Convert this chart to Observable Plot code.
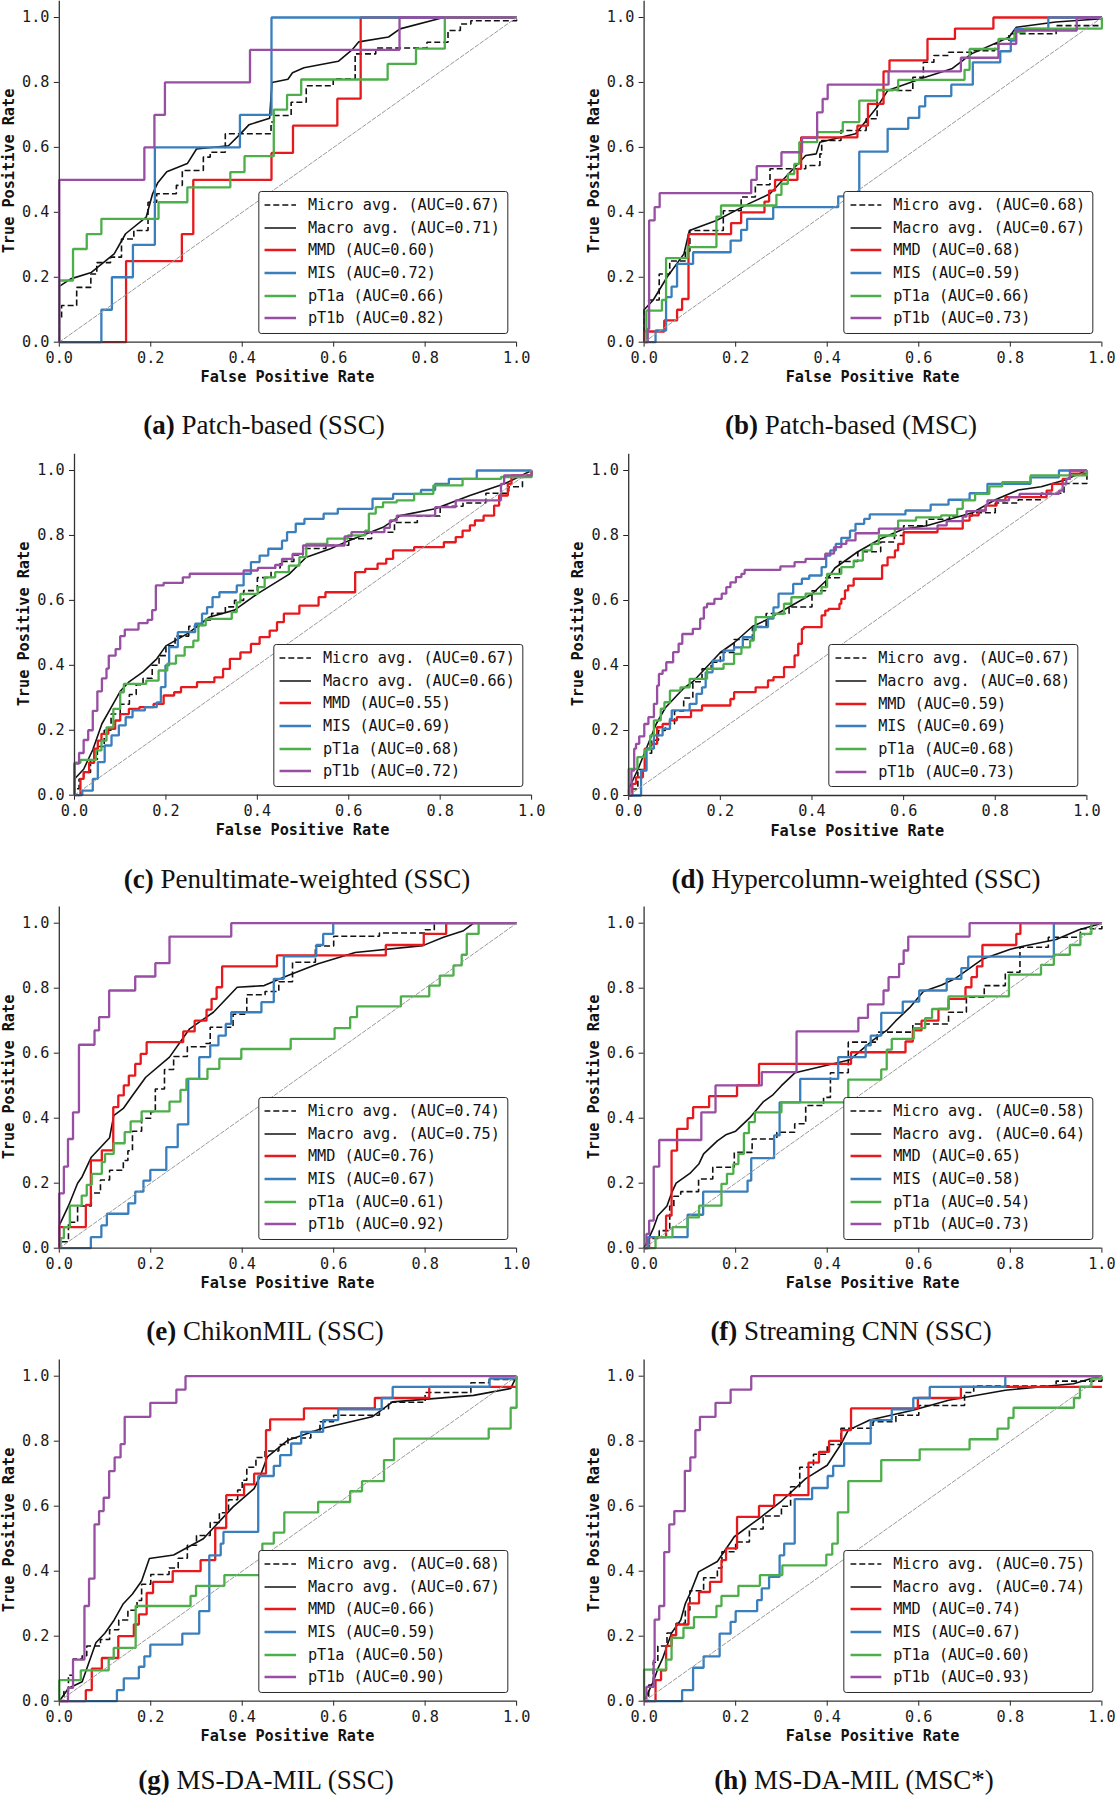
<!DOCTYPE html>
<html>
<head>
<meta charset="utf-8">
<script src="https://cdn.jsdelivr.net/npm/d3@7"></script>
<script src="https://cdn.jsdelivr.net/npm/@observablehq/plot@0.6"></script>
<style>
  html, body { margin: 0; padding: 0; background: #fff; }
  #root { position: relative; width: 1115px; height: 1800px; background: #fff; overflow: hidden; }
  .legend { position: absolute; background: #fff; border: 1.3px solid #2a2a2a; border-radius: 3px; box-sizing: border-box;
            font-family: "DejaVu Sans Mono", monospace; color: #111; white-space: pre; }
  .legrow { display: flex; align-items: center; }
  .axlab { position: absolute; font-family: "DejaVu Sans Mono", monospace; font-weight: bold; color: #111; white-space: nowrap; }
  .caption { position: absolute; font-family: "Liberation Serif", "Times New Roman", serif; font-size: 27px; color: #111; white-space: nowrap; line-height: 27px; }
</style>
</head>
<body>
<div id="root"></div>
<script>
// ---------------- DATA ----------------
const seriesNames = ["Micro avg.", "Macro avg.", "MMD", "MIS", "pT1a", "pT1b"];
const panelKeys = ["a", "b", "c", "d", "e", "f", "g", "h"];
const captionTitles = ["Patch-based (SSC)", "Patch-based (MSC)", "Penultimate-weighted (SSC)", "Hypercolumn-weighted (SSC)",
  "ChikonMIL (SSC)", "Streaming CNN (SSC)", "MS-DA-MIL (SSC)", "MS-DA-MIL (MSC*)"];
const tickValues = [0, 0.2, 0.4, 0.6, 0.8, 1.0];

// AUC values: micro, macro, MMD, MIS, pT1a, pT1b
const aucA = [0.67, 0.71, 0.60, 0.72, 0.66, 0.82];
const aucB = [0.68, 0.67, 0.68, 0.59, 0.66, 0.73];
const aucC = [0.67, 0.66, 0.55, 0.69, 0.68, 0.72];
const aucD = [0.67, 0.68, 0.59, 0.69, 0.68, 0.73];
const aucE = [0.74, 0.75, 0.76, 0.67, 0.61, 0.92];
const aucF = [0.58, 0.64, 0.65, 0.58, 0.54, 0.73];
const aucG = [0.68, 0.67, 0.66, 0.59, 0.50, 0.90];
const aucH = [0.75, 0.74, 0.74, 0.67, 0.60, 0.93];

// ---- (a) Patch-based (SSC) : [FPR, TPR]
const a_micro = [[0,0],[0,0.072],[0.005,0.113],[0.038,0.169],[0.069,0.21],[0.082,0.245],[0.112,0.262],[0.136,0.318],[0.163,0.344],[0.194,0.431],[0.213,0.457],[0.256,0.483],[0.269,0.529],[0.315,0.57],[0.33,0.585],[0.363,0.642],[0.463,0.678],[0.47,0.698],[0.507,0.739],[0.54,0.79],[0.599,0.811],[0.647,0.888],[0.692,0.906],[0.804,0.924],[0.85,0.96],[0.877,0.98],[0.90,0.99],[1,1]];
const a_macro = [[0,0],[0,0.172],[0.025,0.195],[0.07,0.215],[0.12,0.272],[0.145,0.334],[0.19,0.385],[0.204,0.457],[0.215,0.49],[0.235,0.525],[0.28,0.55],[0.3,0.595],[0.37,0.605],[0.395,0.64],[0.415,0.67],[0.46,0.69],[0.465,0.8],[0.5,0.81],[0.51,0.83],[0.535,0.845],[0.61,0.865],[0.64,0.9],[0.655,0.925],[0.72,0.94],[0.745,0.965],[0.84,1.0],[1,1]];
const a_MMD = [[0,0],[0.146,0.25],[0.268,0.333],[0.293,0.5],[0.464,0.583],[0.511,0.667],[0.608,0.75],[0.659,1],[1,1]];
const a_MIS = [[0,0],[0.092,0.1],[0.115,0.2],[0.161,0.3],[0.209,0.6],[0.395,0.7],[0.464,1],[1,1]];
const a_pT1a = [[0,0],[0,0.19],[0.030,0.287],[0.060,0.333],[0.092,0.38],[0.217,0.431],[0.280,0.477],[0.374,0.524],[0.405,0.573],[0.469,0.716],[0.498,0.762],[0.529,0.809],[0.718,0.857],[0.780,0.904],[0.843,1],[1,1]];
const a_pT1b = [[0,0],[0,0.5],[0.186,0.6],[0.208,0.7],[0.231,0.8],[0.417,0.9],[0.744,1],[1,1]];

// ---- (b) Patch-based (MSC)
const b_micro = [[0,0],[0,0.10],[0.01,0.13],[0.033,0.21],[0.056,0.25],[0.09,0.28],[0.1,0.344],[0.173,0.405],[0.212,0.447],[0.243,0.485],[0.275,0.534],[0.353,0.544],[0.384,0.58],[0.388,0.621],[0.43,0.652],[0.485,0.688],[0.509,0.775],[0.587,0.816],[0.61,0.862],[0.633,0.883],[0.665,0.893],[0.719,0.898],[0.766,0.919],[0.797,0.95],[0.9,0.975],[1,0.99],[1,1]];
const b_macro = [[0,0],[0,0.1],[0.02,0.13],[0.05,0.2],[0.087,0.272],[0.099,0.344],[0.158,0.375],[0.228,0.426],[0.275,0.457],[0.353,0.575],[0.376,0.58],[0.384,0.616],[0.462,0.642],[0.509,0.724],[0.532,0.775],[0.614,0.816],[0.672,0.842],[0.715,0.888],[0.797,0.939],[0.813,0.97],[0.899,0.986],[1,0.996]];
const b_MMD = [[0,0],[0,0.033],[0.044,0.067],[0.072,0.10],[0.083,0.133],[0.097,0.333],[0.19,0.367],[0.212,0.40],[0.263,0.433],[0.273,0.467],[0.286,0.50],[0.335,0.534],[0.343,0.631],[0.466,0.667],[0.489,0.734],[0.523,0.834],[0.536,0.868],[0.619,0.934],[0.679,0.966],[0.763,1],[1,1]];
const b_MIS = [[0,0],[0.025,0.036],[0.048,0.139],[0.06,0.171],[0.072,0.241],[0.107,0.277],[0.189,0.313],[0.212,0.346],[0.225,0.38],[0.282,0.416],[0.424,0.449],[0.47,0.587],[0.532,0.657],[0.577,0.691],[0.601,0.726],[0.614,0.758],[0.671,0.793],[0.718,0.862],[0.778,0.896],[0.801,0.929],[0.811,0.965],[0.883,1],[1,1]];
const b_pT1a = [[0,0],[0.005,0.097],[0.039,0.13],[0.048,0.259],[0.095,0.293],[0.158,0.387],[0.168,0.421],[0.289,0.454],[0.3,0.488],[0.314,0.518],[0.328,0.549],[0.339,0.616],[0.378,0.647],[0.434,0.678],[0.47,0.744],[0.509,0.777],[0.555,0.808],[0.7,0.839],[0.711,0.903],[0.774,0.934],[0.809,0.955],[0.832,0.966],[1,1]];
const b_pT1b = [[0,0],[0.008,0.041],[0.011,0.375],[0.023,0.416],[0.034,0.459],[0.234,0.50],[0.246,0.542],[0.30,0.585],[0.345,0.629],[0.378,0.708],[0.39,0.749],[0.401,0.793],[0.534,0.834],[0.692,0.876],[0.774,0.919],[0.813,0.96],[0.945,1],[1,1]];

// ---- (c) Penultimate-weighted (SSC)
const c_micro = [[0,0],[0,0.02],[0.01,0.05],[0.02,0.07],[0.035,0.11],[0.05,0.15],[0.065,0.2],[0.08,0.25],[0.1,0.28],[0.12,0.31],[0.135,0.34],[0.15,0.36],[0.17,0.4],[0.185,0.43],[0.2,0.46],[0.22,0.49],[0.25,0.52],[0.28,0.54],[0.3,0.56],[0.33,0.58],[0.35,0.6],[0.37,0.63],[0.4,0.67],[0.43,0.7],[0.45,0.72],[0.48,0.74],[0.5,0.76],[0.55,0.77],[0.6,0.79],[0.65,0.81],[0.7,0.84],[0.75,0.86],[0.8,0.89],[0.85,0.9],[0.9,0.93],[0.95,0.95],[0.98,0.98],[1,1]];
const c_macro = [[0,0],[0,0.05],[0.02,0.08],[0.04,0.14],[0.06,0.22],[0.08,0.27],[0.1,0.32],[0.12,0.35],[0.15,0.38],[0.18,0.42],[0.2,0.46],[0.25,0.5],[0.294,0.548],[0.35,0.57],[0.4,0.62],[0.469,0.68],[0.507,0.733],[0.56,0.759],[0.6,0.784],[0.675,0.825],[0.713,0.861],[0.789,0.882],[0.865,0.923],[0.941,0.959],[1,1]];
const c_MMD = [[0,0],[0.013,0.05],[0.02,0.071],[0.032,0.10],[0.043,0.143],[0.051,0.168],[0.059,0.189],[0.074,0.204],[0.089,0.23],[0.1,0.25],[0.119,0.266],[0.142,0.271],[0.173,0.281],[0.195,0.307],[0.218,0.317],[0.233,0.333],[0.268,0.348],[0.306,0.363],[0.325,0.389],[0.34,0.42],[0.363,0.44],[0.386,0.466],[0.405,0.487],[0.427,0.507],[0.443,0.533],[0.458,0.559],[0.492,0.584],[0.534,0.61],[0.549,0.625],[0.614,0.687],[0.636,0.697],[0.663,0.713],[0.682,0.728],[0.697,0.754],[0.743,0.764],[0.808,0.779],[0.834,0.795],[0.849,0.815],[0.865,0.831],[0.876,0.846],[0.895,0.861],[0.918,0.892],[0.929,0.923],[0.948,0.959],[0.956,0.985],[1,1]];
const c_MIS = [[0,0],[0.017,0.014],[0.04,0.05],[0.051,0.102],[0.066,0.153],[0.081,0.184],[0.097,0.215],[0.112,0.24],[0.127,0.261],[0.154,0.271],[0.18,0.286],[0.189,0.333],[0.199,0.40],[0.207,0.456],[0.226,0.502],[0.264,0.528],[0.279,0.559],[0.29,0.579],[0.302,0.61],[0.317,0.625],[0.355,0.646],[0.37,0.682],[0.386,0.718],[0.405,0.738],[0.424,0.759],[0.454,0.784],[0.465,0.81],[0.484,0.836],[0.503,0.851],[0.545,0.867],[0.576,0.882],[0.652,0.913],[0.697,0.928],[0.758,0.94],[0.789,0.959],[0.819,0.974],[0.88,1],[1,1]];
const c_pT1a = [[0,0],[0,0.1],[0.013,0.109],[0.047,0.138],[0.059,0.168],[0.07,0.209],[0.085,0.266],[0.1,0.317],[0.108,0.343],[0.157,0.353],[0.184,0.384],[0.203,0.405],[0.222,0.43],[0.241,0.456],[0.26,0.476],[0.271,0.523],[0.287,0.543],[0.344,0.564],[0.355,0.594],[0.363,0.62],[0.401,0.641],[0.416,0.671],[0.439,0.687],[0.469,0.707],[0.492,0.733],[0.507,0.774],[0.553,0.79],[0.598,0.80],[0.636,0.815],[0.644,0.867],[0.659,0.887],[0.675,0.902],[0.705,0.908],[0.743,0.928],[0.785,0.954],[0.849,0.974],[0.933,0.98],[1,0.98],[1,1]];
const c_pT1b = [[0,0],[0,0.097],[0.01,0.13],[0.02,0.17],[0.03,0.2],[0.04,0.26],[0.05,0.32],[0.06,0.36],[0.07,0.39],[0.075,0.43],[0.09,0.45],[0.1,0.49],[0.11,0.51],[0.14,0.53],[0.16,0.54],[0.17,0.57],[0.178,0.646],[0.195,0.654],[0.237,0.671],[0.252,0.682],[0.37,0.692],[0.401,0.70],[0.439,0.709],[0.454,0.728],[0.477,0.743],[0.5,0.769],[0.591,0.797],[0.606,0.81],[0.678,0.823],[0.69,0.846],[0.705,0.861],[0.789,0.887],[0.834,0.908],[0.933,0.959],[0.94,0.985],[1,1]];

// ---- (d) Hypercolumn-weighted (SSC)
const d_micro = [[0,0],[0,0.02],[0.02,0.08],[0.035,0.13],[0.05,0.17],[0.065,0.2],[0.08,0.22],[0.1,0.26],[0.12,0.3],[0.14,0.35],[0.16,0.39],[0.18,0.41],[0.2,0.44],[0.23,0.48],[0.27,0.52],[0.3,0.56],[0.35,0.58],[0.4,0.63],[0.43,0.67],[0.46,0.72],[0.5,0.75],[0.55,0.78],[0.58,0.8],[0.6,0.83],[0.65,0.85],[0.7,0.86],[0.75,0.87],[0.8,0.9],[0.85,0.91],[0.9,0.93],[0.95,0.96],[1,1]];
const d_macro = [[0,0],[0,0.02],[0.02,0.08],[0.04,0.15],[0.06,0.22],[0.08,0.27],[0.1,0.30],[0.12,0.33],[0.14,0.35],[0.16,0.38],[0.18,0.41],[0.2,0.44],[0.23,0.47],[0.27,0.52],[0.3,0.54],[0.35,0.58],[0.4,0.62],[0.43,0.66],[0.45,0.70],[0.5,0.75],[0.55,0.79],[0.6,0.82],[0.65,0.83],[0.7,0.85],[0.75,0.87],[0.8,0.91],[0.85,0.94],[0.9,0.95],[0.95,0.97],[1,1]];
const d_MMD = [[0,0],[0.008,0.036],[0.016,0.056],[0.031,0.077],[0.035,0.144],[0.047,0.159],[0.062,0.21],[0.074,0.22],[0.09,0.231],[0.105,0.241],[0.136,0.262],[0.16,0.277],[0.222,0.297],[0.23,0.318],[0.277,0.333],[0.304,0.354],[0.316,0.364],[0.339,0.395],[0.362,0.431],[0.37,0.467],[0.378,0.513],[0.382,0.518],[0.421,0.554],[0.429,0.569],[0.436,0.574],[0.46,0.59],[0.464,0.605],[0.472,0.631],[0.479,0.646],[0.491,0.667],[0.553,0.708],[0.565,0.733],[0.581,0.754],[0.588,0.774],[0.6,0.81],[0.674,0.821],[0.729,0.846],[0.744,0.862],[0.764,0.877],[0.779,0.892],[0.803,0.908],[0.822,0.918],[0.912,0.938],[0.924,0.959],[0.947,0.974],[0.963,0.99],[1,1]];
const d_MIS = [[0,0],[0.027,0.015],[0.027,0.077],[0.039,0.144],[0.055,0.185],[0.074,0.205],[0.09,0.236],[0.094,0.262],[0.133,0.282],[0.148,0.313],[0.16,0.333],[0.168,0.379],[0.183,0.415],[0.207,0.446],[0.23,0.456],[0.249,0.487],[0.273,0.518],[0.304,0.544],[0.316,0.579],[0.327,0.621],[0.359,0.651],[0.378,0.667],[0.394,0.677],[0.421,0.703],[0.431,0.738],[0.44,0.754],[0.452,0.774],[0.464,0.793],[0.483,0.815],[0.495,0.836],[0.514,0.851],[0.526,0.865],[0.604,0.877],[0.659,0.895],[0.698,0.91],[0.744,0.93],[0.783,0.959],[0.877,0.979],[0.939,1],[1,1]];
const d_pT1a = [[0,0],[0,0.082],[0.019,0.118],[0.035,0.141],[0.047,0.185],[0.055,0.231],[0.07,0.267],[0.078,0.287],[0.09,0.323],[0.113,0.333],[0.133,0.359],[0.171,0.39],[0.207,0.405],[0.23,0.436],[0.246,0.456],[0.265,0.477],[0.273,0.508],[0.277,0.549],[0.316,0.559],[0.339,0.59],[0.355,0.61],[0.386,0.621],[0.421,0.641],[0.433,0.682],[0.464,0.703],[0.491,0.723],[0.511,0.754],[0.53,0.774],[0.546,0.8],[0.581,0.821],[0.588,0.846],[0.627,0.856],[0.682,0.862],[0.717,0.882],[0.729,0.908],[0.756,0.928],[0.787,0.951],[0.815,0.964],[0.877,0.985],[1,1]];
const d_pT1b = [[0,0],[0.006,0.077],[0.012,0.144],[0.016,0.159],[0.023,0.182],[0.034,0.22],[0.043,0.241],[0.055,0.282],[0.062,0.338],[0.066,0.374],[0.074,0.385],[0.082,0.41],[0.097,0.441],[0.109,0.467],[0.117,0.497],[0.14,0.513],[0.156,0.544],[0.164,0.579],[0.171,0.59],[0.187,0.605],[0.203,0.621],[0.213,0.641],[0.222,0.656],[0.234,0.672],[0.246,0.682],[0.253,0.694],[0.331,0.705],[0.362,0.718],[0.386,0.728],[0.429,0.744],[0.448,0.764],[0.464,0.774],[0.475,0.785],[0.495,0.807],[0.546,0.821],[0.674,0.831],[0.694,0.844],[0.729,0.858],[0.737,0.875],[0.779,0.894],[0.783,0.908],[0.83,0.918],[0.853,0.928],[0.939,0.938],[0.947,0.959],[0.955,0.974],[0.963,1],[1,1]];

// ---- (e) ChikonMIL (SSC)
const e_micro = [[0,0],[0,0.02],[0.02,0.08],[0.04,0.13],[0.07,0.17],[0.09,0.21],[0.11,0.24],[0.14,0.27],[0.15,0.30],[0.16,0.36],[0.18,0.40],[0.2,0.42],[0.21,0.49],[0.23,0.55],[0.25,0.59],[0.28,0.62],[0.32,0.63],[0.33,0.68],[0.38,0.72],[0.41,0.78],[0.45,0.79],[0.48,0.82],[0.51,0.88],[0.56,0.93],[0.6,0.96],[0.7,0.97],[0.8,0.98],[0.82,1.0],[1,1]];
const e_macro = [[0,0],[0,0.07],[0.01,0.1],[0.02,0.13],[0.04,0.2],[0.05,0.22],[0.07,0.28],[0.09,0.31],[0.11,0.34],[0.119,0.408],[0.14,0.43],[0.16,0.47],[0.189,0.526],[0.241,0.588],[0.285,0.675],[0.337,0.726],[0.389,0.803],[0.448,0.808],[0.5,0.839],[0.566,0.875],[0.647,0.91],[0.795,0.931],[0.84,0.957],[0.884,0.977],[0.906,1],[1,1]];
const e_MMD = [[0,0],[0,0.065],[0.058,0.133],[0.069,0.27],[0.093,0.301],[0.118,0.434],[0.129,0.47],[0.141,0.501],[0.152,0.531],[0.166,0.567],[0.178,0.598],[0.191,0.634],[0.271,0.667],[0.296,0.70],[0.322,0.734],[0.333,0.767],[0.344,0.803],[0.356,0.867],[0.476,0.901],[0.714,0.933],[0.797,0.967],[0.846,1],[1,1]];
const e_MIS = [[0,0],[0.069,0.034],[0.092,0.07],[0.104,0.106],[0.151,0.138],[0.166,0.174],[0.184,0.208],[0.199,0.241],[0.234,0.311],[0.259,0.381],[0.282,0.521],[0.306,0.588],[0.33,0.624],[0.348,0.654],[0.364,0.69],[0.376,0.726],[0.442,0.757],[0.469,0.829],[0.491,0.898],[0.562,0.933],[0.577,0.967],[0.599,1],[1,1]];
const e_pT1a = [[0,0],[0.003,0.031],[0.01,0.065],[0.023,0.131],[0.049,0.162],[0.06,0.195],[0.071,0.229],[0.093,0.265],[0.1,0.29],[0.119,0.323],[0.143,0.357],[0.156,0.39],[0.18,0.421],[0.241,0.451],[0.265,0.487],[0.278,0.521],[0.324,0.552],[0.35,0.583],[0.398,0.613],[0.506,0.644],[0.602,0.677],[0.636,0.711],[0.651,0.744],[0.747,0.775],[0.809,0.808],[0.832,0.839],[0.862,0.87],[0.88,0.903],[0.891,0.967],[0.917,1],[1,1]];
const e_pT1b = [[0,0],[0,0.169],[0.01,0.251],[0.019,0.336],[0.03,0.418],[0.043,0.626],[0.077,0.67],[0.087,0.711],[0.109,0.793],[0.166,0.836],[0.21,0.877],[0.241,0.959],[0.376,1],[1,1]];

// ---- (f) Streaming CNN (SSC)
const f_micro = [[0,0],[0.01,0.03],[0.033,0.054],[0.056,0.13],[0.065,0.16],[0.08,0.174],[0.119,0.213],[0.15,0.249],[0.197,0.295],[0.236,0.336],[0.29,0.357],[0.329,0.383],[0.353,0.439],[0.392,0.464],[0.407,0.54],[0.446,0.634],[0.509,0.665],[0.587,0.69],[0.665,0.726],[0.704,0.772],[0.743,0.808],[0.789,0.849],[0.821,0.926],[0.883,0.957],[0.953,0.983],[1,1]];
const f_macro = [[0,0],[0.02,0.06],[0.03,0.1],[0.05,0.13],[0.06,0.17],[0.07,0.2],[0.1,0.23],[0.12,0.26],[0.13,0.29],[0.16,0.33],[0.18,0.35],[0.2,0.36],[0.23,0.4],[0.26,0.45],[0.28,0.47],[0.3,0.5],[0.33,0.54],[0.36,0.55],[0.42,0.57],[0.45,0.58],[0.5,0.64],[0.53,0.67],[0.55,0.7],[0.58,0.74],[0.61,0.79],[0.65,0.81],[0.68,0.83],[0.72,0.87],[0.74,0.89],[0.8,0.92],[0.83,0.93],[0.9,0.95],[0.95,0.98],[1,1]];
const f_MMD = [[0,0],[0.011,0.034],[0.048,0.10],[0.06,0.30],[0.072,0.367],[0.095,0.40],[0.107,0.434],[0.142,0.468],[0.203,0.501],[0.251,0.567],[0.452,0.603],[0.571,0.636],[0.587,0.67],[0.606,0.70],[0.643,0.736],[0.665,0.767],[0.702,0.803],[0.715,0.834],[0.727,0.867],[0.739,0.933],[0.813,0.967],[0.822,1],[1,1]];
const f_MIS = [[0,0],[0.008,0.034],[0.095,0.103],[0.129,0.138],[0.129,0.174],[0.226,0.208],[0.234,0.277],[0.284,0.347],[0.296,0.449],[0.341,0.521],[0.424,0.588],[0.484,0.624],[0.495,0.654],[0.518,0.724],[0.565,0.759],[0.601,0.793],[0.661,0.829],[0.693,0.862],[0.708,0.897],[0.895,1],[1,1]];
const f_pT1a = [[0,0],[0.025,0.034],[0.062,0.065],[0.095,0.095],[0.12,0.131],[0.169,0.198],[0.181,0.229],[0.195,0.259],[0.206,0.29],[0.218,0.354],[0.229,0.388],[0.242,0.418],[0.3,0.449],[0.446,0.519],[0.518,0.55],[0.53,0.611],[0.541,0.644],[0.589,0.677],[0.614,0.708],[0.629,0.736],[0.665,0.775],[0.797,0.842],[0.867,0.872],[0.895,0.903],[0.93,0.933],[0.953,0.967],[0.977,1],[1,1]];
const f_pT1b = [[0,0],[0.005,0.044],[0.011,0.085],[0.021,0.251],[0.033,0.333],[0.125,0.418],[0.156,0.501],[0.257,0.542],[0.333,0.667],[0.468,0.709],[0.489,0.75],[0.523,0.793],[0.534,0.834],[0.557,0.875],[0.567,0.916],[0.577,0.959],[0.711,1],[1,1]];

// ---- (g) MS-DA-MIL (SSC)
const g_micro = [[0,0],[0.01,0.03],[0.02,0.08],[0.03,0.13],[0.05,0.14],[0.06,0.17],[0.09,0.19],[0.11,0.22],[0.13,0.25],[0.15,0.28],[0.17,0.31],[0.18,0.36],[0.2,0.39],[0.24,0.41],[0.26,0.44],[0.28,0.48],[0.3,0.51],[0.33,0.55],[0.35,0.58],[0.37,0.62],[0.39,0.65],[0.4,0.68],[0.41,0.72],[0.43,0.75],[0.45,0.77],[0.48,0.79],[0.5,0.81],[0.55,0.83],[0.57,0.86],[0.6,0.88],[0.7,0.9],[0.72,0.92],[0.8,0.95],[0.9,0.98],[0.94,0.99],[1,1]];
const g_macro = [[0,0],[0.02,0.04],[0.05,0.06],[0.06,0.1],[0.08,0.18],[0.1,0.21],[0.12,0.25],[0.14,0.3],[0.16,0.33],[0.18,0.37],[0.197,0.439],[0.25,0.45],[0.315,0.5],[0.38,0.598],[0.426,0.654],[0.44,0.695],[0.455,0.752],[0.5,0.803],[0.574,0.839],[0.684,0.875],[0.729,0.921],[0.906,0.941],[0.987,0.962],[1,1]];
const g_MMD = [[0,0],[0.058,0.034],[0.071,0.10],[0.093,0.133],[0.129,0.20],[0.163,0.236],[0.174,0.267],[0.191,0.333],[0.205,0.367],[0.248,0.40],[0.309,0.434],[0.341,0.533],[0.365,0.634],[0.404,0.667],[0.426,0.70],[0.452,0.834],[0.461,0.867],[0.535,0.901],[0.69,0.933],[0.809,0.967],[1,0.967]];
const g_MIS = [[0,0],[0.126,0.034],[0.141,0.07],[0.174,0.106],[0.186,0.138],[0.199,0.174],[0.269,0.208],[0.306,0.277],[0.328,0.449],[0.353,0.485],[0.359,0.521],[0.435,0.693],[0.469,0.724],[0.483,0.757],[0.507,0.793],[0.529,0.829],[0.577,0.865],[0.61,0.898],[0.705,0.933],[0.729,0.967],[0.941,0.993],[1,1]];
const g_pT1a = [[0,0],[0,0.065],[0.047,0.095],[0.108,0.131],[0.119,0.164],[0.167,0.293],[0.287,0.324],[0.299,0.355],[0.361,0.388],[0.444,0.485],[0.469,0.519],[0.492,0.581],[0.566,0.613],[0.636,0.646],[0.662,0.677],[0.71,0.742],[0.732,0.808],[0.939,0.839],[0.987,0.903],[1,1]];
const g_pT1b = [[0,0],[0.019,0.041],[0.03,0.128],[0.055,0.293],[0.065,0.377],[0.077,0.544],[0.087,0.585],[0.097,0.626],[0.109,0.708],[0.121,0.75],[0.134,0.791],[0.143,0.875],[0.199,0.918],[0.256,0.959],[0.276,1],[1,1]];

// ---- (h) MS-DA-MIL (MSC*)
const h_micro = [[0,0],[0.01,0.05],[0.02,0.12],[0.03,0.17],[0.05,0.21],[0.07,0.24],[0.09,0.28],[0.1,0.34],[0.13,0.38],[0.16,0.41],[0.17,0.46],[0.2,0.49],[0.23,0.53],[0.26,0.57],[0.3,0.6],[0.32,0.66],[0.34,0.72],[0.37,0.76],[0.4,0.79],[0.43,0.84],[0.5,0.86],[0.55,0.88],[0.6,0.91],[0.7,0.95],[0.72,0.97],[0.9,0.985],[1,1]];
const h_macro = [[0,0],[0.02,0.06],[0.03,0.1],[0.04,0.13],[0.06,0.21],[0.08,0.25],[0.09,0.3],[0.1,0.33],[0.119,0.398],[0.16,0.43],[0.197,0.506],[0.251,0.562],[0.298,0.613],[0.353,0.685],[0.4,0.726],[0.431,0.793],[0.446,0.834],[0.493,0.865],[0.587,0.895],[0.665,0.926],[0.789,0.957],[0.938,0.977],[0.977,0.993],[1,1]];
const h_MMD = [[0,0],[0.025,0.065],[0.037,0.095],[0.048,0.17],[0.06,0.203],[0.07,0.236],[0.097,0.301],[0.12,0.336],[0.144,0.367],[0.169,0.434],[0.179,0.47],[0.203,0.567],[0.251,0.601],[0.284,0.634],[0.359,0.734],[0.382,0.767],[0.404,0.801],[0.431,0.834],[0.452,0.901],[0.598,0.933],[0.692,0.967],[1,0.967]];
const h_MIS = [[0,0],[0.083,0.034],[0.107,0.103],[0.13,0.138],[0.165,0.208],[0.189,0.244],[0.2,0.277],[0.247,0.311],[0.257,0.347],[0.273,0.383],[0.296,0.449],[0.306,0.485],[0.329,0.622],[0.367,0.656],[0.401,0.693],[0.413,0.724],[0.437,0.793],[0.495,0.865],[0.541,0.898],[0.588,0.933],[0.624,0.967],[0.789,1],[1,1]];
const h_pT1a = [[0,0],[0,0.097],[0.048,0.128],[0.06,0.195],[0.086,0.226],[0.109,0.259],[0.158,0.293],[0.169,0.324],[0.206,0.355],[0.253,0.388],[0.302,0.418],[0.398,0.451],[0.411,0.485],[0.423,0.581],[0.446,0.677],[0.518,0.742],[0.602,0.775],[0.711,0.806],[0.772,0.839],[0.796,0.872],[0.807,0.903],[0.939,0.933],[0.952,0.967],[0.977,0.993],[1,1]];
const h_pT1b = [[0,0],[0.005,0.044],[0.021,0.126],[0.023,0.251],[0.033,0.293],[0.044,0.459],[0.055,0.544],[0.066,0.585],[0.089,0.709],[0.101,0.75],[0.112,0.834],[0.122,0.875],[0.156,0.918],[0.189,0.959],[0.234,1],[1,1]];

// ---------------- TABLES BUILT FROM THE ARRAYS ----------------
const curveSets = {
  a: [a_micro, a_macro, a_MMD, a_MIS, a_pT1a, a_pT1b],
  b: [b_micro, b_macro, b_MMD, b_MIS, b_pT1a, b_pT1b],
  c: [c_micro, c_macro, c_MMD, c_MIS, c_pT1a, c_pT1b],
  d: [d_micro, d_macro, d_MMD, d_MIS, d_pT1a, d_pT1b],
  e: [e_micro, e_macro, e_MMD, e_MIS, e_pT1a, e_pT1b],
  f: [f_micro, f_macro, f_MMD, f_MIS, f_pT1a, f_pT1b],
  g: [g_micro, g_macro, g_MMD, g_MIS, g_pT1a, g_pT1b],
  h: [h_micro, h_macro, h_MMD, h_MIS, h_pT1a, h_pT1b]
};
const aucSets = {a: aucA, b: aucB, c: aucC, d: aucD, e: aucE, f: aucF, g: aucG, h: aucH};

// ---------------- LAYOUT & STYLE ----------------
const geom = {
  a: {x0: 58.8, x1: 516.1, y1: 17, y0: 341.7},
  b: {x0: 643.6, x1: 1101.4, y1: 17, y0: 341.7},
  c: {x0: 74.0, x1: 531.1, y1: 470, y0: 794.7},
  d: {x0: 628.2, x1: 1086.4, y1: 470, y0: 795},
  e: {x0: 58.8, x1: 516.1, y1: 922.7, y0: 1247.7},
  f: {x0: 643.6, x1: 1101.4, y1: 922.7, y0: 1247.7},
  g: {x0: 58.8, x1: 516.1, y1: 1375.7, y0: 1700.7},
  h: {x0: 643.6, x1: 1101.4, y1: 1375.7, y0: 1700.7}
};
const captionCenterX = [264, 851, 297, 856, 265, 851, 266, 854];
const captionBaseline = [434.3, 888.5, 1341, 1789.5];
const FS = 15.2;
const seriesStyle = [
  {stroke: "#111", width: 1.6, dash: "6,3", curve: "step-after"},
  {stroke: "#111", width: 1.6, dash: null, curve: "linear"},
  {stroke: "#e8191c", width: 2.3, dash: null, curve: "step-after"},
  {stroke: "#3a7fbd", width: 2.3, dash: null, curve: "step-after"},
  {stroke: "#4daf4a", width: 2.3, dash: null, curve: "step-after"},
  {stroke: "#984ea3", width: 2.3, dash: null, curve: "step-after"}
];

const root = document.getElementById("root");

panelKeys.forEach((key, idx) => {
  const g = geom[key];
  const pw = g.x1 - g.x0;
  const yTop = g.y0 - 1.05 * (g.y0 - g.y1);
  const left = Math.floor(g.x0 - 64), top = Math.floor(yTop - 4);
  const ML = g.x0 - left, MT = yTop - top;
  const width = Math.ceil(ML + pw + 24);
  const height = Math.ceil(MT + (g.y0 - yTop) + 44);
  const MR = width - ML - pw;
  const MB = height - MT - (g.y0 - yTop);

  const curves = curveSets[key];
  const marks = [
    Plot.axisX({ticks: tickValues, tickFormat: d3.format(".1f"), tickSize: 5, tickPadding: 5, label: null, fontSize: FS, stroke: "#222"}),
    Plot.axisY({ticks: tickValues, tickFormat: d3.format(".1f"), tickSize: 5, tickPadding: 4.8, label: null, fontSize: FS, stroke: "#222"}),
  ];
  curves.forEach((c, i) => {
    const st = seriesStyle[i];
    marks.push(Plot.line(c, {x: d => d[0], y: d => d[1], curve: st.curve, stroke: st.stroke, strokeWidth: st.width,
      strokeDasharray: st.dash || undefined, strokeLinejoin: "miter", strokeLinecap: "butt"}));
  });
  marks.push(Plot.line([[0, 0], [1, 1]], {x: d => d[0], y: d => d[1], stroke: "#9a9a9a", strokeWidth: 1, strokeDasharray: "4,2"}));
  marks.push(Plot.ruleX([0], {stroke: "#333", strokeWidth: 1.3}));
  marks.push(Plot.ruleY([0], {stroke: "#333", strokeWidth: 1.3}));

  const chart = Plot.plot({
    width, height,
    marginLeft: ML, marginRight: MR, marginTop: MT, marginBottom: MB,
    x: {domain: [0, 1]},
    y: {domain: [0, 1.05]},
    style: {fontFamily: "DejaVu Sans Mono", fontSize: FS + "px", color: "#1a1a1a", background: "transparent", overflow: "visible"},
    marks
  });
  chart.style.position = "absolute";
  chart.style.left = left + "px";
  chart.style.top = top + "px";
  root.appendChild(chart);

  // axis titles
  const xl = document.createElement("div");
  xl.className = "axlab";
  xl.textContent = "False Positive Rate";
  xl.style.fontSize = FS + "px";
  xl.style.left = ((g.x0 + g.x1) / 2) + "px";
  xl.style.top = (g.y0 + 35.5) + "px";
  xl.style.transform = "translate(-50%,-50%)";
  root.appendChild(xl);

  const yl = document.createElement("div");
  yl.className = "axlab";
  yl.textContent = "True Positive Rate";
  yl.style.fontSize = FS + "px";
  yl.style.left = (g.x0 - 50) + "px";
  yl.style.top = ((g.y0 + yTop) / 2) + "px";
  yl.style.transform = "translate(-50%,-50%) rotate(-90deg)";
  root.appendChild(yl);

  // legend
  const lg = document.createElement("div");
  lg.className = "legend";
  lg.style.fontSize = FS + "px";
  lg.style.padding = "1.7px 7.2px 3.4px 5.2px";
  lg.style.left = (g.x1 - 8) + "px";
  lg.style.top = (g.y0 - 7.7) + "px";
  lg.style.transform = "translate(-100%,-100%)";
  const aucs = aucSets[key];
  seriesNames.forEach((nm, i) => {
    const st = seriesStyle[i];
    const row = document.createElement("div");
    row.className = "legrow";
    row.style.height = "22.66px";
    const sw = 31.7;
    row.innerHTML = `<svg width="${sw}" height="10" style="flex:none;margin-right:11.6px"><line x1="0" y1="5" x2="${sw}" y2="5" stroke="${st.stroke}" stroke-width="${st.width}" ${st.dash ? `stroke-dasharray="${st.dash}"` : ""}/></svg><span>${nm} (AUC=${aucs[i].toFixed(2)})</span>`;
    lg.appendChild(row);
  });
  root.appendChild(lg);

  // caption
  const cap = document.createElement("div");
  cap.className = "caption";
  cap.innerHTML = `<b>(${key})</b> ${captionTitles[idx]}`;
  cap.style.left = captionCenterX[idx] + "px";
  cap.style.top = (captionBaseline[Math.floor(idx / 2)] - 22.6) + "px";
  cap.style.transform = "translateX(-50%)";
  root.appendChild(cap);
});
</script>
</body>
</html>
